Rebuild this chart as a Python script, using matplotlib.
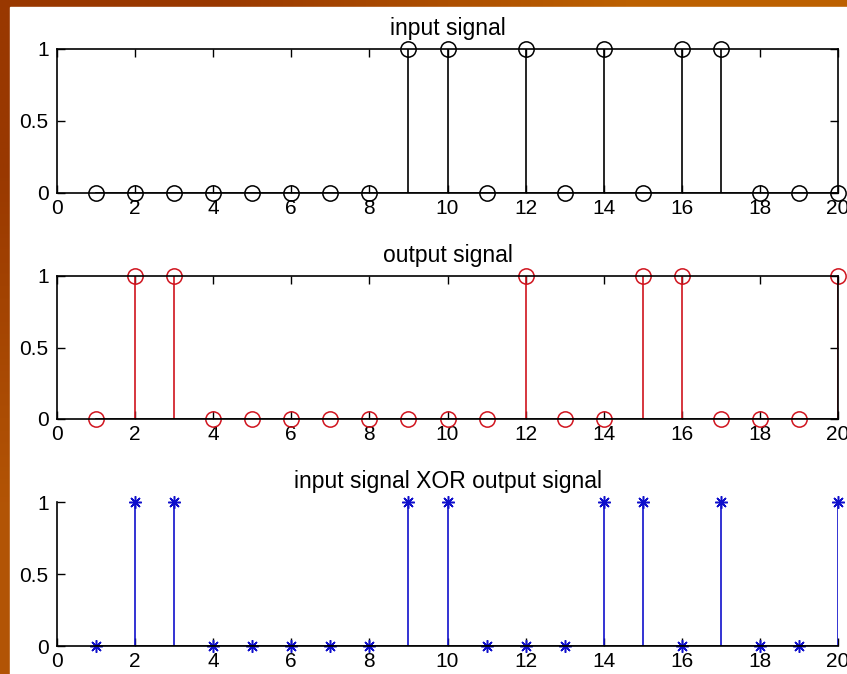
import numpy as np
import matplotlib.pyplot as plt
from matplotlib.patches import Rectangle

plt.rcParams['font.family'] = ['Liberation Sans', 'DejaVu Sans']

n = list(range(1, 21))
input_sig = [0, 0, 0, 0, 0, 0, 0, 0, 1, 1, 0, 1, 0, 1, 0, 1, 1, 0, 0, 0]
output_sig = [0, 1, 1, 0, 0, 0, 0, 0, 0, 0, 0, 1, 0, 0, 1, 1, 0, 0, 0, 1]
xor_sig = [0, 1, 1, 0, 0, 0, 0, 0, 1, 1, 0, 0, 0, 1, 1, 0, 1, 0, 0, 1]

W, H = 847, 674
fig = plt.figure(figsize=(W / 100, H / 100), dpi=100)

# slide background (orange gradient) behind the white figure area
bg = fig.add_axes([0, 0, 1, 1])
grad = np.array([[[0.60, 0.22, 0.00], [0.74, 0.38, 0.00]],
                 [[0.70, 0.33, 0.02], [0.72, 0.36, 0.02]]])
bg.imshow(grad, aspect='auto', interpolation='bilinear', extent=[0, 1, 0, 1])
bg.add_patch(Rectangle((10 / W, 0), 1, 1 - 7 / H, color='white', transform=bg.transAxes))
bg.set_axis_off()


def px_axes(top, bottom, left=57, right=838):
    return fig.add_axes([left / W, 1 - bottom / H, (right - left) / W, (bottom - top) / H])


panels = [
    (input_sig, 'k', 'o', 'input signal', 49, 193, True),
    (output_sig, '#d0141e', 'o', 'output signal', 276, 419, True),
    (xor_sig, '#1010cc', (8, 2, 0), 'input signal XOR output signal', 502, 646, False),
]

for vals, col, mk, title, top, bot, box in panels:
    ax = px_axes(top, bot)
    ml, sl, bl = ax.stem(n, vals, linefmt='-', basefmt='k-')
    plt.setp(sl, color=col, linewidth=1.2)
    plt.setp(bl, color='k', linewidth=1.2)
    ml.set_marker(mk)
    if mk == 'o':
        plt.setp(ml, markerfacecolor='none', markeredgecolor=col, markersize=11, markeredgewidth=1.1)
    else:
        plt.setp(ml, color=col, markersize=9, markeredgewidth=1.1)
    ml.set_clip_on(False)
    ax.set_xlim(0, 20)
    ax.set_ylim(0, 1)
    ax.set_xticks(range(0, 21, 2))
    ax.set_yticks([0, 0.5, 1])
    ax.set_yticklabels(['0', '0.5', '1'])
    ax.tick_params(direction='in', length=6, width=1, labelsize=15,
                   top=box, right=box)
    ax.tick_params(axis='x', pad=4)
    ax.tick_params(axis='y', pad=6)
    for s in ax.spines.values():
        s.set_linewidth(1.2)
    if not box:
        ax.spines['top'].set_visible(False)
        ax.spines['right'].set_visible(False)
    ax.set_title(title, fontsize=16.5, pad=10)

fig.savefig('out.png', dpi=100)
